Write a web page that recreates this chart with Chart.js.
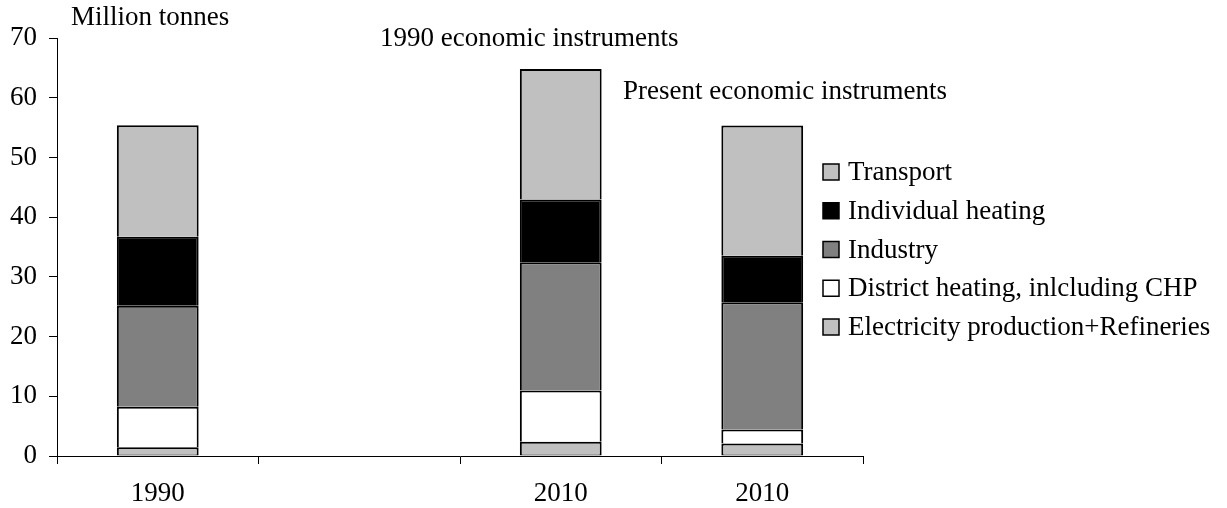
<!DOCTYPE html>
<html>
<head>
<meta charset="utf-8">
<script src="https://cdn.jsdelivr.net/npm/chart.js@4/dist/chart.umd.min.js"></script>
<style>
  html, body { margin: 0; padding: 0; background: #fff; }
  #wrap { width: 1227px; height: 508px; }
</style>
</head>
<body>
<div id="wrap"><canvas id="c" width="1227" height="508"></canvas></div>
<script>
// Emissions by sector, million tonnes
const categories = ['1990', '', '2010', '2010'];
const electricityRefineries = [1.45, null, 2.4, 2.1];
const districtHeating       = [6.8,  null, 8.55, 2.35];
const industry              = [16.9, null, 21.5, 21.3];
const individualHeating     = [11.55, null, 10.5, 7.8];
const transport             = [18.7, null, 21.85, 21.8];
const yTicks = [0, 10, 20, 30, 40, 50, 60, 70];

const FONT = 'Liberation Serif, Times New Roman, serif';
const FS = 27;

// Each segment outlines its top and sides; the one below supplies the shared edge
function ds(label, data, color, bottomEdge) {
  return {
    label, data,
    backgroundColor: color,
    borderColor: '#000',
    borderWidth: { top: 2, left: 2, right: 2, bottom: bottomEdge },
    borderSkipped: false,
    barPercentage: 0.406,
    categoryPercentage: 1.0
  };
}

// Free text placed on the chart
const notesPlugin = {
  id: 'notes',
  afterDraw(chart) {
    const { ctx, chartArea: a } = chart;
    ctx.save();
    ctx.fillStyle = '#000';
    ctx.textBaseline = 'middle';
    ctx.textAlign = 'left';
    ctx.font = FS + 'px ' + FONT;
    ctx.fillText('Million tonnes', a.left + 14, 18);
    ctx.fillText('1990 economic instruments', a.left + 323, 39);
    ctx.fillText('Present economic instruments', a.left + 566, 92);
    ctx.restore();
  }
};

// Legend listed top-down in stacking order (top segment first)
const legendPlugin = {
  id: 'sideLegend',
  afterDraw(chart) {
    const { ctx, chartArea: a } = chart;
    const items = chart.data.datasets.slice().reverse();
    const x0 = a.right - 40;
    const y0 = 172;
    const step = 38.75;
    const box = 16;
    ctx.save();
    ctx.font = FS + 'px ' + FONT;
    ctx.textBaseline = 'middle';
    ctx.textAlign = 'left';
    items.forEach((d, i) => {
      const y = y0 + i * step;
      ctx.fillStyle = d.backgroundColor;
      ctx.fillRect(x0, y - box / 2, box, box);
      ctx.strokeStyle = '#000';
      ctx.lineWidth = 1.5;
      ctx.strokeRect(x0, y - box / 2, box, box);
      ctx.fillStyle = '#000';
      ctx.fillText(d.label, x0 + 25, y + 1);
    });
    ctx.restore();
  }
};

new Chart(document.getElementById('c'), {
  type: 'bar',
  data: {
    labels: categories,
    datasets: [
      ds('Electricity production+Refineries', electricityRefineries, '#c0c0c0', 1),
      ds('District heating, inlcluding CHP', districtHeating, '#ffffff', 0),
      ds('Industry', industry, '#808080', 0),
      ds('Individual heating', individualHeating, '#000000', 0),
      ds('Transport', transport, '#c0c0c0', 0)
    ]
  },
  options: {
    responsive: false,
    devicePixelRatio: 1,
    animation: false,
    layout: { padding: { top: 38, right: 364, left: 0, bottom: 0 } },
    plugins: {
      legend: { display: false },
      tooltip: { enabled: false }
    },
    scales: {
      x: {
        stacked: true,
        afterFit(s) { s.height = 52; },
        grid: {
          offset: true,
          drawOnChartArea: false,
          drawTicks: true,
          tickLength: 8,
          color: '#000',
          lineWidth: 1
        },
        border: { color: '#000', width: 1 },
        ticks: {
          color: '#000',
          font: { family: FONT, size: FS },
          padding: 14,
          maxRotation: 0,
          autoSkip: false
        }
      },
      y: {
        stacked: true,
        min: 0,
        max: 70,
        afterFit(s) { s.width = 57; },
        afterBuildTicks(s) { s.ticks = yTicks.map(v => ({ value: v })); },
        grid: {
          drawOnChartArea: false,
          drawTicks: true,
          tickLength: 8,
          color: '#000',
          lineWidth: 1
        },
        border: { color: '#000', width: 1 },
        ticks: {
          color: '#000',
          font: { family: FONT, size: FS },
          padding: 12
        }
      }
    }
  },
  plugins: [notesPlugin, legendPlugin]
});
</script>
</body>
</html>
